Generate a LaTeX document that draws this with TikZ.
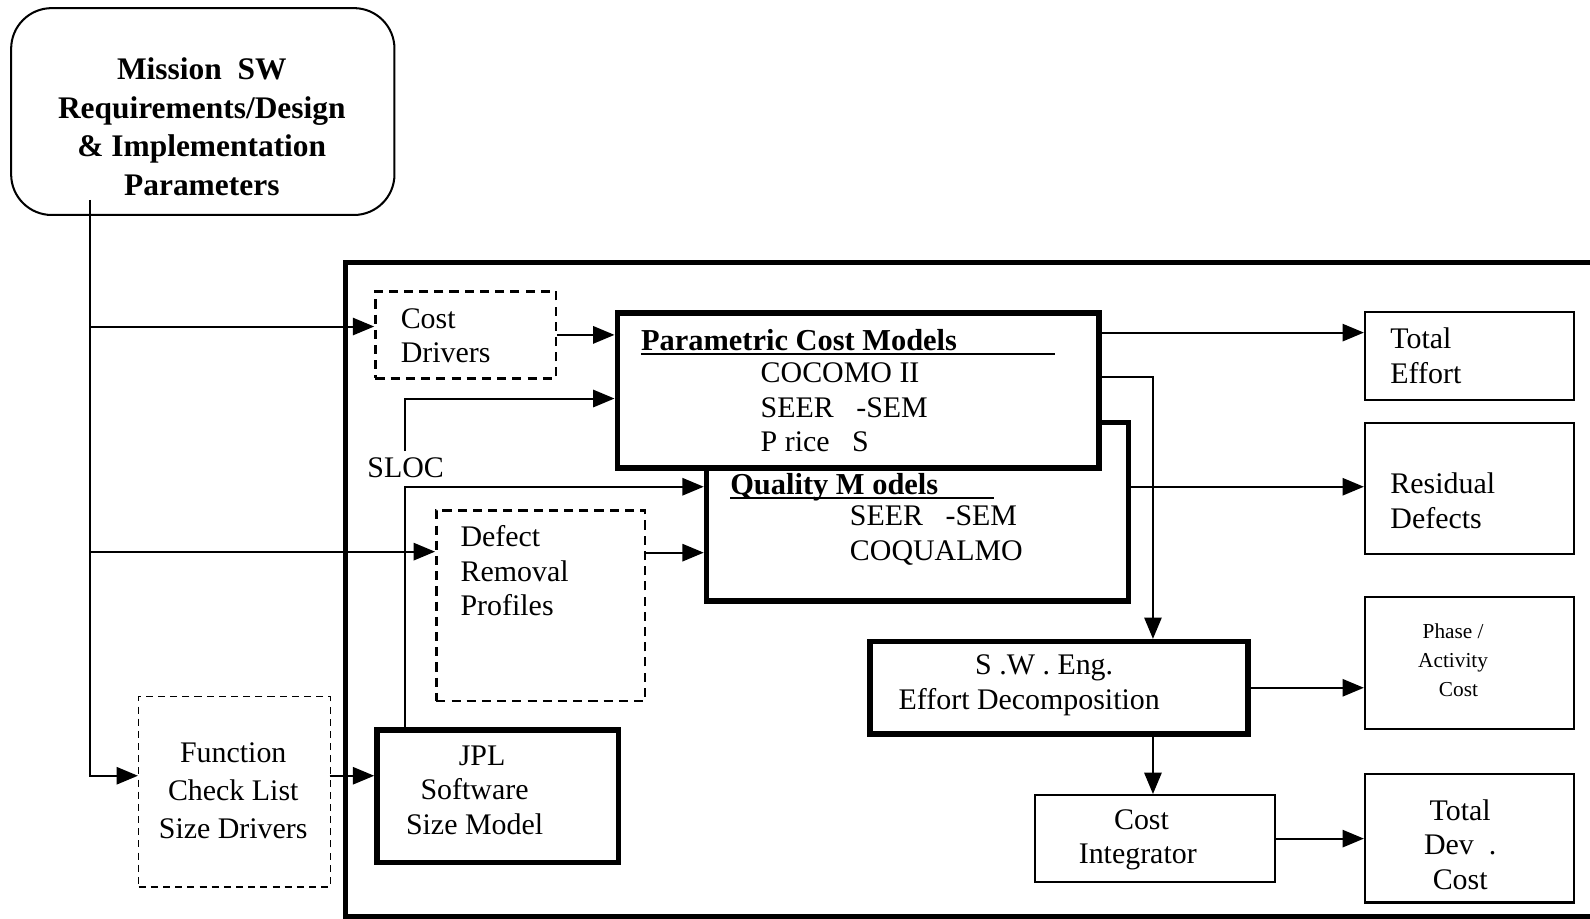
\documentclass[tikz,border=0pt]{standalone}
\usepackage{fontspec}
\setmainfont{Liberation Serif}
\usetikzlibrary{arrows.meta}
\newcommand\myfs{\fontsize{29.5}{34}\selectfont}
\newcommand\mybfs{\fontsize{31}{38}\selectfont\bfseries}
\newcommand\mybtitle{\fontsize{30}{34}\selectfont\bfseries}
\newcommand\mysmallfs{\fontsize{21}{29}\selectfont}
\begin{document}
\begin{tikzpicture}[x=1pt,y=-1pt,
  conn/.style={line width=2pt},
  arr/.style={line width=2pt,-{Triangle[length=21pt,width=17pt]}},
  thickbox/.style={draw,line width=5.5pt,inner sep=0pt,fill=white},
  thinbox/.style={draw,line width=2pt,inner sep=0pt},
  dbox/.style={draw,line width=2.5pt,dash pattern=on 9pt off 6pt,inner sep=0pt},
  fbox/.style={draw,line width=1.5pt,dash pattern=on 7pt off 5pt,inner sep=0pt},
  txt/.style={inner sep=0pt,font=\myfs},
  ul/.style={line width=2.5pt},
  bx/.style={anchor=north west}
]
\useasboundingbox (0,0) rectangle (1568,906);

% outer frame
\draw[line width=5pt] (1580,259) -- (341,259) -- (341,904) -- (1580,904);

% mission box
\node[draw,line width=2pt,rounded corners=40pt,minimum width=378,minimum height=204,bx] (mission) at (10,7) {};
\node[txt,font=\mybfs,align=center] (missiont) at (199,125) {Mission\ \ SW\\Requirements/Design\\\& Implementation\\Parameters};

% cost drivers
\node[dbox,minimum width=178,minimum height=86,bx] (cd) at (369,286) {};
\node[txt,align=left,anchor=west] (cdt) at (395,331) {Cost\\Drivers};

% quality models (behind)
\node[thickbox,minimum width=416,minimum height=176,bx] (qm) at (694,414) {};
% parametric cost models
\node[thickbox,minimum width=475,minimum height=153,bx] (pcm) at (606,306) {};
\node[txt,font=\mybtitle,anchor=base west] (pcmt) at (632,346) {Parametric Cost Models};
\draw[ul] (pcmt.base west) ++(0,3) coordinate (u1) -- (u1 -| 1040,0);
\node[txt,align=left,anchor=west] (pcml) at (750,402) {COCOMO II\\SEER\ \ \ -SEM\\P rice\ \ \ S};

\node[txt,font=\mybtitle,anchor=base west] (qmt) at (720,488) {Quality M odels};
\draw[ul] (qmt.base west) ++(0,3) coordinate (u2) -- (u2 -| 980,0);
\node[txt,align=left,anchor=west] (qml) at (838,528) {SEER\ \ \ -SEM\\COQUALMO};

% SLOC
\node[txt,inner sep=6pt] (sloc) at (400,461) {SLOC};

% defect removal profiles
\node[dbox,minimum width=206,minimum height=188,bx] (drp) at (429,502) {};
\node[txt,align=left,anchor=west] (drpt) at (454,563) {Defect\\Removal\\Profiles};

% function check list
\node[fbox,minimum width=189,minimum height=188,bx] (fcl) at (136,686) {};
\node[txt,align=center,font=\fontsize{29.5}{37.5}\selectfont] (fclt) at (230,780) {Function\\Check List\\Size Drivers};

% JPL
\node[thickbox,minimum width=238,minimum height=131,bx] (jpl) at (369,717) {};
\node[txt,align=center] (jplt) at (468,779) {\ \ JPL\\Software\\Size Model};

% outputs
\node[thinbox,minimum width=206,minimum height=86,bx] (te) at (1345,307) {};
\node[txt,align=left,anchor=west] (tet) at (1371,351) {Total\\Effort};
\node[thinbox,minimum width=206,minimum height=129,bx] (rd) at (1345,416) {};
\node[txt,align=left,anchor=west] (rdt) at (1371,494) {Residual\\Defects};
\node[thinbox,minimum width=206,minimum height=130,bx] (pac) at (1345,588) {};
\node[txt,align=center,font=\mysmallfs] (pact) at (1433,651) {Phase /\\Activity\\\ \ Cost};
\node[thinbox,minimum width=206,minimum height=127,bx] (tdc) at (1345,762) {};
\node[txt,align=center] (tdct) at (1440,833) {Total\\Dev\ \ .\\Cost};

% SW eng
\node[thickbox,minimum width=373,minimum height=91,bx] (swe) at (855,630) {};
\node[txt,align=center] (swet) at (1015,676) {\ \ \ \ S .W . Eng.\\Effort Decomposition};

% cost integrator
\node[thinbox,minimum width=236,minimum height=86,bx] (ci) at (1020,783) {};
\node[txt,align=center] (cit) at (1122,828) {\ Cost\\Integrator};

% connectors
\coordinate (m0) at (89,197);
\coordinate (b1) at (89,322);
\coordinate (b2) at (89,544);
\coordinate (b3) at (89,765);
\draw[arr] (m0) -- (b3) -- (b3 -| fcl.west);
\draw[arr] (b1) -- (b1 -| cd.west);
\draw[arr] (b2) -- (b2 -| drp.west);

\draw[arr] (cd.east) -- (cd.east -| pcm.west);

\coordinate (s1) at (399,393);
\coordinate (s2) at (399,480);
\draw[arr] (sloc.north -| s1) -- (s1) -- (s1 -| pcm.west);
\draw[arr] (s2 |- jpl.north) -- (s2) -- (s2 -| qm.west);

\coordinate (d1) at (635,545);
\draw[arr] (d1) -- (d1 -| qm.west);

\coordinate (f1) at (325,765);
\draw[arr] (f1) -- (f1 -| jpl.west);

\coordinate (p1) at (1083,328);
\draw[arr] (p1) -- (p1 -| te.west);
\coordinate (p2) at (1083,372);
\coordinate (p3) at (1137,372);
\draw[arr] (p2) -- (p3) -- (p3 |- swe.north);

\coordinate (q1) at (1112,480);
\draw[arr] (q1) -- (q1 -| rd.west);

\draw[arr] (swe.east) -- (swe.east -| pac.west);
\draw[arr] (p3 |- swe.south) -- (p3 |- ci.north);
\draw[arr] (ci.east) -- (ci.east -| tdc.west);
\end{tikzpicture}
\end{document}
